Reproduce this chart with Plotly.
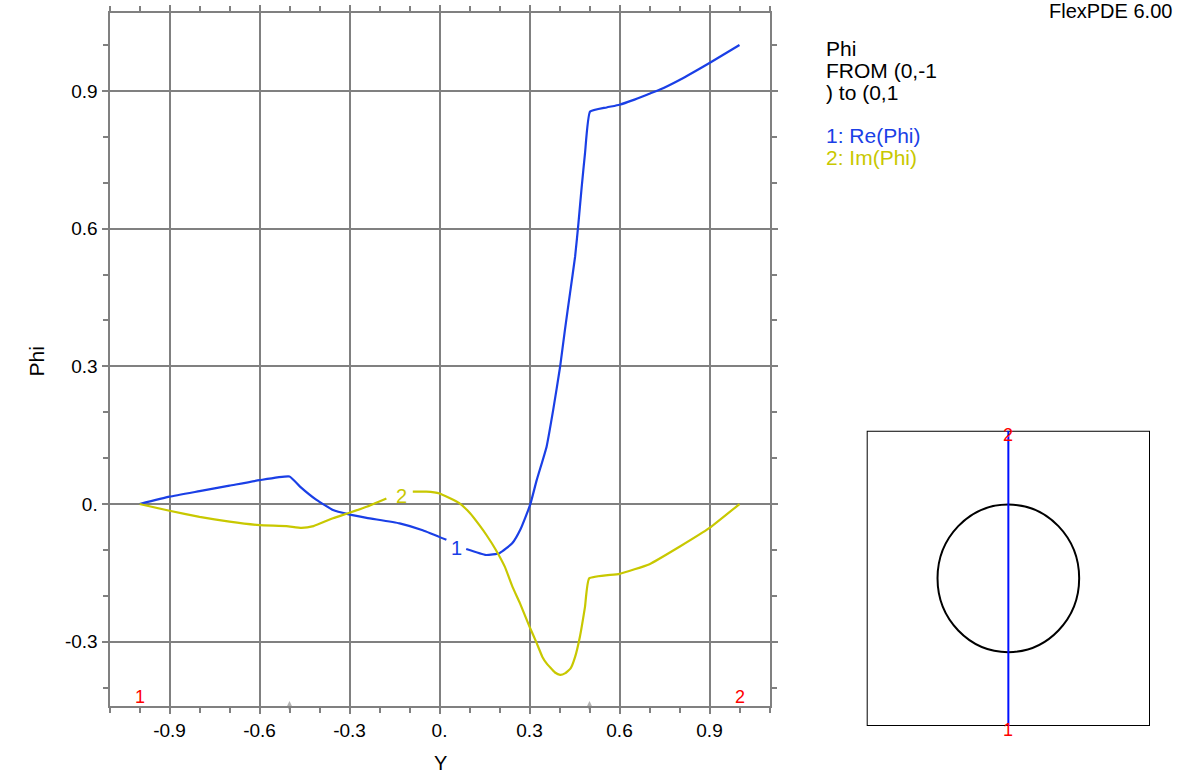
import plotly.graph_objects as go

# ---- data ----
re_x = [-1.0, -0.9, -0.8, -0.7, -0.6, -0.5, -0.465, -0.41, -0.355, -0.305, -0.243, -0.133, -0.056, 0.023,
        None, 0.089, 0.155, 0.2, 0.243, 0.27, 0.302, 0.324, 0.357, 0.379, 0.402, 0.418, 0.435, 0.452, 0.463,
        0.474, 0.485, 0.502, 0.557, 0.6, 0.645, 0.7, 0.735, 0.8, 0.9, 1.0]
re_y = [0.0, 0.016, 0.028, 0.040, 0.052, 0.060, 0.038, 0.009, -0.013, -0.022, -0.030, -0.042, -0.057, -0.078,
        None, -0.098, -0.111, -0.107, -0.085, -0.055, -0.002, 0.052, 0.125, 0.205, 0.299, 0.379, 0.459, 0.539,
        0.611, 0.691, 0.764, 0.855, 0.864, 0.870, 0.880, 0.894, 0.903, 0.924, 0.961, 1.0]

im_x = [-1.0, -0.9, -0.8, -0.7, -0.6, -0.51, -0.46, -0.42, -0.355, -0.305, -0.243, -0.177,
        None, -0.089, -0.044, 0.0, 0.066, 0.102, 0.133, 0.157, 0.188, 0.218, 0.243, 0.268, 0.3, 0.324,
        0.343, 0.357, 0.385, 0.402, 0.418, 0.437, 0.452, 0.468, 0.485, 0.499, 0.6, 0.7, 0.8, 0.9, 1.0]
im_y = [0.0, -0.0146, -0.028, -0.0385, -0.046, -0.048, -0.052, -0.048, -0.031, -0.020, -0.006, 0.012,
        None, 0.027, 0.027, 0.023, 0.002, -0.020, -0.046, -0.068, -0.100, -0.137, -0.180, -0.216, -0.267, -0.303,
        -0.333, -0.347, -0.367, -0.372, -0.369, -0.358, -0.333, -0.289, -0.224, -0.162, -0.152, -0.131, -0.093,
        -0.052, 0.0]

tick_vals = [-0.9, -0.6, -0.3, 0.0, 0.3, 0.6, 0.9]
x_tick_text = ["-0.9", "-0.6", "-0.3", "0.", "0.3", "0.6", "0.9"]
y_tick_vals = [-0.3, 0.0, 0.3, 0.6, 0.9]
y_tick_text = ["-0.3", "0.", "0.3", "0.6", "0.9"]

region_marks = [-0.5, 0.5]          # grey boundary markers on the Y axis
path_x = [0.0, 0.0]                 # plot path in inset: from (0,-1) to (0,1)
path_y = [-1.0, 1.0]
circle_r = 0.5
legend_lines = ["Phi", "FROM (0,-1", ") to (0,1"]
series_names = ["1: Re(Phi)", "2: Im(Phi)"]

# ---- styling ----
W, H = 1181, 776
BLUE = "#1a3fe6"
YEL = "#c8c800"
GREY = "#808080"
FONT = "Liberation Sans, Arial, sans-serif"

def px_x(p):
    return p / W

def px_y(p):
    return 1 - p / H

fig = go.Figure()
fig.add_trace(go.Scatter(x=re_x, y=re_y, mode="lines",
                         line=dict(color=BLUE, width=2.2, shape="spline", smoothing=0.4),
                         name=series_names[0], showlegend=False, connectgaps=False))
fig.add_trace(go.Scatter(x=im_x, y=im_y, mode="lines",
                         line=dict(color=YEL, width=2.2, shape="spline", smoothing=0.4),
                         name=series_names[1], showlegend=False, connectgaps=False))
fig.add_trace(go.Scatter(x=region_marks, y=[-0.44] * len(region_marks), mode="markers",
                         marker=dict(symbol="diamond-tall", size=7, color="#b4b4b4"),
                         cliponaxis=False, showlegend=False, hoverinfo="skip"))
# inset path
fig.add_trace(go.Scatter(x=path_x, y=path_y, mode="lines", line=dict(color="#0010ff", width=2),
                         xaxis="x2", yaxis="y2", showlegend=False))

axis_common = dict(showline=True, linecolor=GREY, linewidth=2, mirror="ticks",
                   showgrid=True, gridcolor=GREY, gridwidth=2, zeroline=False,
                   ticks="outside", ticklen=6, tickwidth=2, tickcolor=GREY,
                   tickfont=dict(family=FONT, size=19, color="black"), automargin=False,
                   tickmode="array")

fig.update_layout(
    width=W, height=H, margin=dict(l=0, r=0, t=0, b=0),
    paper_bgcolor="white", plot_bgcolor="white", template="none",
    font=dict(family=FONT, color="black"),
    xaxis=dict(domain=[px_x(109.5), px_x(769.5)], range=[-1.1, 1.1],
               tickvals=tick_vals, ticktext=x_tick_text,
               minor=dict(tick0=0, dtick=0.1, ticks="outside", ticklen=5, tickwidth=2,
                          tickcolor=GREY, showgrid=False),
               **axis_common),
    yaxis=dict(domain=[px_y(706), px_y(12.9)], range=[-0.44, 1.07],
               tickvals=y_tick_vals, ticktext=y_tick_text,
               minor=dict(tick0=0, dtick=0.1, ticks="outside", ticklen=5, tickwidth=2,
                          tickcolor=GREY, showgrid=False),
               **axis_common),
    xaxis2=dict(domain=[px_x(866.7), px_x(1150)], range=[-1, 1], visible=False,
                anchor="y2"),
    yaxis2=dict(domain=[px_y(726), px_y(430.7)], range=[-1, 1], visible=False,
                anchor="x2"),
    showlegend=False,
)

# inset geometry
fig.add_shape(type="rect", xref="x2", yref="y2", x0=-1, x1=1, y0=-1, y1=1,
              line=dict(color="black", width=2), layer="below")
fig.add_shape(type="circle", xref="x2", yref="y2", x0=-circle_r, x1=circle_r,
              y0=-circle_r, y1=circle_r, line=dict(color="black", width=2), layer="below")

ann = []
# curve labels
ann.append(dict(x=0.058, y=-0.096, xref="x", yref="y", text="1", showarrow=False,
                font=dict(color=BLUE, size=20, family=FONT)))
ann.append(dict(x=-0.128, y=0.017, xref="x", yref="y", text="2", showarrow=False,
                font=dict(color=YEL, size=20, family=FONT)))
# path endpoint labels on main plot
ann.append(dict(x=-1.0, y=-0.44, xref="x", yref="y", text="1", showarrow=False,
                yanchor="bottom", yshift=-3, font=dict(color="red", size=18, family=FONT)))
ann.append(dict(x=1.0, y=-0.44, xref="x", yref="y", text="2", showarrow=False,
                yanchor="bottom", yshift=-3, font=dict(color="red", size=18, family=FONT)))
# inset endpoint labels
ann.append(dict(x=0, y=1, xref="x2", yref="y2", text="2", showarrow=False,
                yanchor="middle", yshift=-4, font=dict(color="red", size=18, family=FONT)))
ann.append(dict(x=0, y=-1, xref="x2", yref="y2", text="1", showarrow=False,
                yanchor="middle", yshift=-4, font=dict(color="red", size=18, family=FONT)))
# axis titles
ann.append(dict(x=px_x(440), y=px_y(763), xref="paper", yref="paper", text="Y", showarrow=False,
                yanchor="middle", borderpad=0, font=dict(size=20, family=FONT)))
ann.append(dict(x=px_x(22), y=px_y(362), xref="paper", yref="paper", text="Phi", showarrow=False,
                yanchor="middle", textangle=-90, font=dict(size=21, family=FONT)))
# header
ann.append(dict(x=px_x(1173), y=px_y(11), xref="paper", yref="paper", text="FlexPDE 6.00",
                showarrow=False, xanchor="right", yanchor="middle", borderpad=0,
                font=dict(size=20, family=FONT)))
# legend block
for txt, yp in zip(legend_lines, [48, 70.5, 92.5]):
    ann.append(dict(x=px_x(824), y=px_y(yp), xref="paper", yref="paper", text=txt,
                    showarrow=False, xanchor="left", yanchor="middle", font=dict(size=21, family=FONT)))
for txt, yp, col in zip(series_names, [135.5, 157.5], [BLUE, YEL]):
    ann.append(dict(x=px_x(824), y=px_y(yp), xref="paper", yref="paper", text=txt,
                    showarrow=False, xanchor="left", yanchor="middle",
                    font=dict(size=21, family=FONT, color=col)))
fig.update_layout(annotations=ann)

fig.write_html("out.html", config={"displayModeBar": False},
               post_script="document.body.style.margin='0px';document.body.style.overflow='hidden';")
